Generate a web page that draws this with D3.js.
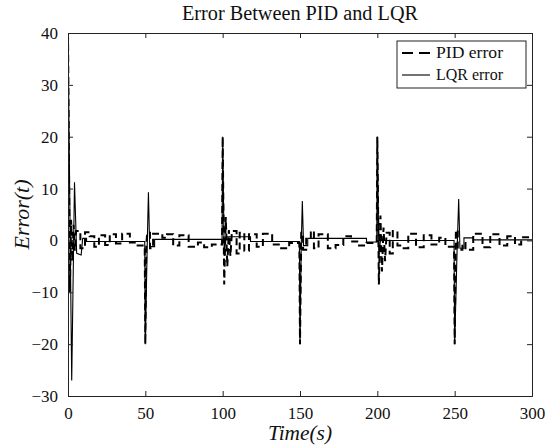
<!DOCTYPE html>
<html><head><meta charset="utf-8">
<script src="https://cdn.jsdelivr.net/npm/d3@7"></script>
<style>body{margin:0;background:#fff}svg{display:block}text{font-family:"Liberation Serif","DejaVu Serif",serif;fill:#111}</style>
</head><body>
<script>
// ---- data ----
const xTicks = [0, 50, 100, 150, 200, 250, 300];
const yTicks = [-30, -20, -10, 0, 10, 20, 30, 40];
const seriesNames = ["PID error", "LQR error"];
// PID error breakpoints: [time, value]
const pidData = [
 [0,40],[1.2,-10],[2,4],[2.8,-4],[3.6,3],[4.4,-2],[5.2,1.8],[8,1.8],[8,-1.5],[11,-1.5],[11,1.6],[14,1.6],[14,0.8],
 [17,0.8],[17,-1.2],[20,-1.2],[20,1.0],[24,1.0],[24,-0.9],[27,-0.9],[27,1.2],[31,1.2],[31,-0.6],[35,-0.6],[35,1.3],
 [40,1.3],[40,-0.4],[44,-0.4],[44,-1.0],[49.6,-1.0],[50,-20],[50.6,-1],[51.2,1.5],[53,1.5],[53,-1.5],[55,-1.5],
 [55,1.3],[61,1.3],[61,0.5],[64,0.5],[64,1.2],[68,1.2],[68,-1.0],[72,-1.0],[72,1.0],[78,1.0],[78,-1.2],[84,-1.2],
 [84,-0.4],[88,-0.4],[88,-1.3],[93,-1.3],[93,-0.8],[99.6,-0.8],[100,20],[101,-8.5],[102,4.5],[103,-5],[104,2],
 [105,-3],[106,1.8],[109,1.8],[109,-2.5],[111,-2.5],[111,1.5],[114,1.5],[114,-2.0],[117,-2.0],[117,1.2],[122,1.2],
 [122,-1.2],[126,-1.2],[126,1.3],[132,1.3],[132,-0.8],[137,-0.8],[137,-1.5],[143,-1.5],[143,-0.5],[149.6,-0.5],
 [150,-20],[150.8,1.5],[152,1.5],[152,-1.8],[154,-1.8],[154,0.5],[157,0.5],[157,1.8],[159,1.8],[159,-1.5],[162,-1.5],
 [162,1.2],[168,1.2],[168,-1.5],[173,-1.5],[173,-0.9],[178,-0.9],[178,0.8],[183,0.8],[183,-0.2],[187,-0.2],[187,-1.0],
 [193,-1.0],[193,-0.5],[199.6,-0.5],[200,20],[201,-8.5],[202,4.8],[203,-6],[204,2.5],[205,-4],[206,1.5],[208,1.5],
 [208,-2.5],[210,-2.5],[210,1.8],[213,1.8],[213,-1.0],[216,-1.0],[216,-1.5],[220,-1.5],[220,1.3],[225,1.3],[225,-1.3],
 [230,-1.3],[230,1.0],[235,1.0],[235,-0.8],[240,-0.8],[240,0.5],[244,0.5],[244,-1.2],[249.6,-1.2],[250,-20],[250.8,2],
 [252,2],[252,-1.8],[255,-1.8],[255,-0.5],[257,-0.5],[257,-1.8],[262,-1.8],[262,1.3],[268,1.3],[268,-1.3],[273,-1.3],
 [273,1.2],[279,1.2],[279,-1.0],[284,-1.0],[284,0.8],[289,0.8],[289,-0.8],[293,-0.8],[293,0.6],[300,0.6]
];
// LQR error breakpoints: [time, value]
const lqrData = [
 [0,40],[2.4,-27],[4.2,11.2],[5.6,-2.5],[8.5,-2.8],[9.5,0.4],[12,0.4],[12,-0.2],[49.6,-0.2],[50,-20],[51.2,-1.2],
 [52,9.3],[52.8,-1.2],[56,-1.2],[56,0.2],[99.6,0.2],[100,20],[101,-3],[102,0.7],[118,0.7],[118,-0.2],[149.6,-0.2],
 [150,-20],[150.8,-1],[151.5,7.6],[152.3,-1],[155,-1],[155,0.4],[193,0.4],[193,-0.3],[199.6,-0.3],[200,20],[201,-3],
 [202,0],[249.6,0],[250,-20],[251.6,-1.5],[252.6,8],[253.4,-1.5],[256,-1.5],[256,0.5],[262,0.5],[262,0.1],[300,0.1]
];

// ---- layout ----
const W = 554, H = 447;
const m = {l: 68, r: 22, t: 33, b: 51};
const FONT = '"Liberation Serif","DejaVu Serif",serif';
const svg = d3.select("body").append("svg").attr("width", W).attr("height", H);
const x = d3.scaleLinear().domain([0, 300]).range([m.l, W - m.r]);
const y = d3.scaleLinear().domain([-30, 40]).range([H - m.b, m.t]);

svg.append("clipPath").attr("id", "c").append("rect")
  .attr("x", m.l).attr("y", m.t).attr("width", W - m.l - m.r).attr("height", H - m.t - m.b);

const line = d3.line().x(d => x(d[0])).y(d => y(d[1]));
const g = svg.append("g").attr("clip-path", "url(#c)");
g.append("path").datum(pidData).attr("d", line).attr("fill", "none")
  .attr("stroke", "#000").attr("stroke-width", 2).attr("stroke-dasharray", "7,4");
g.append("path").datum(lqrData).attr("d", line).attr("fill", "none")
  .attr("stroke", "#000").attr("stroke-width", 1.1);

// axes
const fs = 17;
const bx = svg.append("g").attr("transform", `translate(0,${H - m.b})`)
  .call(d3.axisBottom(x).tickValues(xTicks).tickSize(-5).tickPadding(11).tickFormat(d3.format("d")));
const tx = svg.append("g").attr("transform", `translate(0,${m.t})`)
  .call(d3.axisTop(x).tickValues(xTicks).tickSize(-5).tickFormat(""));
const ly = svg.append("g").attr("transform", `translate(${m.l},0)`)
  .call(d3.axisLeft(y).tickValues(yTicks).tickSize(-5).tickPadding(10).tickFormat(d3.format("d")));
const ry = svg.append("g").attr("transform", `translate(${W - m.r},0)`)
  .call(d3.axisRight(y).tickValues(yTicks).tickSize(-5).tickFormat(""));
[bx, tx, ly, ry].forEach(a => {
  a.selectAll("path").attr("stroke", "#222").attr("stroke-width", 1);
  a.selectAll("line").attr("stroke", "#222").attr("stroke-width", 1);
  a.selectAll("text").style("font-family", FONT).attr("font-size", fs).attr("fill", "#111");
});

// title & labels
svg.append("text").attr("x", (m.l + W - m.r) / 2).attr("y", 20).attr("text-anchor", "middle")
  .attr("font-size", 20).attr("textLength", 236).attr("lengthAdjust", "spacingAndGlyphs")
  .text("Error Between PID and LQR");
svg.append("text").attr("x", (m.l + W - m.r) / 2).attr("y", 440).attr("text-anchor", "middle")
  .attr("font-size", 20).attr("font-style", "italic").attr("textLength", 64).attr("lengthAdjust", "spacingAndGlyphs")
  .text("Time(s)");
svg.append("text").attr("transform", `translate(29,${(m.t + H - m.b) / 2}) rotate(-90)`)
  .attr("text-anchor", "middle").attr("font-size", 20).attr("font-style", "italic")
  .attr("textLength", 70).attr("lengthAdjust", "spacingAndGlyphs").text("Error(t)");

// legend
const lg = svg.append("g");
lg.append("rect").attr("x", 397).attr("y", 41).attr("width", 129).attr("height", 47)
  .attr("fill", "#fff").attr("stroke", "#222").attr("stroke-width", 1);
const items = [{n: seriesNames[0], dash: "11,6", w: 2.2}, {n: seriesNames[1], dash: null, w: 1.1}];
items.forEach((it, i) => {
  const yy = 53 + i * 22;
  lg.append("line").attr("x1", 402).attr("x2", 430).attr("y1", yy).attr("y2", yy)
    .attr("stroke", "#000").attr("stroke-width", it.w).attr("stroke-dasharray", it.dash);
  lg.append("text").attr("x", 436).attr("y", yy + 5).attr("font-size", 16)
    .attr("textLength", 67).attr("lengthAdjust", "spacingAndGlyphs").text(it.n);
});
</script>
</body></html>
